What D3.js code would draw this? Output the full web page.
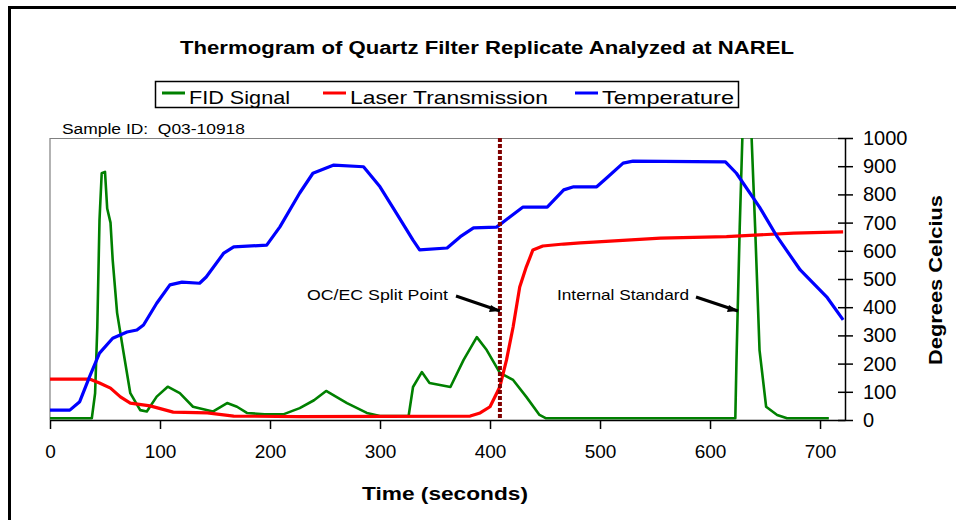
<!DOCTYPE html>
<html lang="en">
<head>
    <meta charset="UTF-8">
    <title>Thermogram of Quartz Filter Replicate</title>
    <style>
        body { margin: 0; background: #fff; }
        text { font-family: "Liberation Sans", Arial, sans-serif; white-space: pre; }
    </style>
</head>
<body>
<script src="https://d3js.org/d3.v7.min.js"></script>
<script>
    // time (s) / value pairs
    const fidTime = [0, 38, 41, 43, 45, 47, 50, 52, 55, 57, 61, 67, 73, 82, 88, 97, 107, 118, 130, 148, 161, 170, 179, 195, 212, 227, 240, 251, 270, 288, 300, 326, 330, 338, 345, 364, 376, 388, 397, 409, 421, 433, 445, 451, 623, 624, 627, 630, 637, 641, 645, 651, 661, 670, 708];
    const fidValue = [6, 6, 95, 330, 709, 875, 880, 750, 700, 567, 380, 236, 95, 35, 30, 83, 118, 95, 47, 30, 60, 47, 25, 20, 20, 42, 70, 103, 60, 25, 14, 14, 117, 170, 131, 117, 213, 294, 248, 167, 142, 82, 18, 6, 6, 202, 684, 1080, 1080, 684, 248, 47, 18, 6, 6];

    const laserTime = [0, 36, 45, 55, 64, 73, 91, 112, 143, 167, 227, 382, 391, 400, 409, 415, 421, 427, 433, 439, 448, 467, 482, 494, 555, 615, 676, 721];
    const laserValue = [145, 145, 131, 113, 82, 60, 50, 28, 25, 14, 12, 14, 25, 47, 118, 213, 330, 472, 543, 603, 617, 624, 628, 631, 645, 650, 663, 667];

    const tempTime = [0, 18, 27, 36, 45, 57, 70, 79, 85, 97, 109, 120, 136, 142, 158, 167, 197, 209, 227, 239, 258, 285, 300, 315, 330, 336, 361, 373, 385, 406, 418, 430, 452, 467, 476, 497, 506, 521, 530, 614, 624, 645, 661, 682, 706, 721];
    const tempValue = [35, 35, 65, 154, 237, 290, 312, 319, 337, 414, 479, 489, 485, 507, 592, 614, 620, 685, 805, 875, 904, 898, 827, 733, 638, 603, 610, 650, 681, 684, 720, 755, 755, 816, 827, 827, 858, 911, 918, 915, 875, 755, 650, 532, 437, 355];

    const xTicks = [0, 100, 200, 300, 400, 500, 600, 700];
    const yTicks = [0, 100, 200, 300, 400, 500, 600, 700, 800, 900, 1000];
    const splitTime = 409;

    const series = [
        {name: "FID Signal", color: "#008000", time: fidTime, value: fidValue, width: 2.6},
        {name: "Laser Transmission", color: "#ff0000", time: laserTime, value: laserValue, width: 3.2},
        {name: "Temperature", color: "#0000ff", time: tempTime, value: tempValue, width: 3.2}
    ];

    const width = 956, height = 520;
    const margin = ({top: 138, right: 111, bottom: 100, left: 50});

    const x = d3.scaleLinear().domain([0, 722.7]).range([margin.left, width - margin.right]);
    const y = d3.scaleLinear().domain([0, 1000]).range([height - margin.bottom, margin.top]);

    const svg = d3.select("body")
        .append("svg")
        .attr("width", width)
        .attr("height", height)
        .attr("viewBox", [0, 0, width, height]);

    // outer frame (only left and top edges visible)
    svg.append("path")
        .attr("d", `M9.5,${height} V7.5 H${width}`)
        .attr("fill", "none")
        .attr("stroke", "#000")
        .attr("stroke-width", 3);

    // title
    svg.append("text")
        .attr("x", 487).attr("y", 54)
        .attr("text-anchor", "middle")
        .attr("font-size", 18).attr("font-weight", "bold")
        .attr("textLength", 614).attr("lengthAdjust", "spacingAndGlyphs")
        .text("Thermogram of Quartz Filter Replicate Analyzed at NAREL");

    // legend
    const legend = svg.append("g");
    legend.append("rect")
        .attr("x", 155.5).attr("y", 81.5).attr("width", 583).attr("height", 26)
        .attr("fill", "#fff").attr("stroke", "#000").attr("stroke-width", 1.5);
    const legendX = [162, 323, 575];
    const legendW = [101, 198, 132];
    series.forEach((s, i) => {
        legend.append("line")
            .attr("x1", legendX[i]).attr("x2", legendX[i] + 23)
            .attr("y1", 93).attr("y2", 93)
            .attr("stroke", s.color).attr("stroke-width", 3);
        legend.append("text")
            .attr("x", legendX[i] + 27).attr("y", 104)
            .attr("font-size", 19)
            .attr("textLength", legendW[i]).attr("lengthAdjust", "spacingAndGlyphs")
            .text(s.name);
    });

    svg.append("text")
        .attr("x", 62).attr("y", 134)
        .attr("font-size", 14)
        .attr("textLength", 183).attr("lengthAdjust", "spacingAndGlyphs")
        .text("Sample ID:  Q03-10918");

    // plot frame: grey left and top edges
    svg.append("path")
        .attr("d", `M${x(0)},${y(0)} V${y(1000) + 0.5} H${x(722.7)}`)
        .attr("fill", "none")
        .attr("stroke", "#808080")
        .attr("stroke-width", 1.2);

    svg.append("clipPath").attr("id", "plot")
        .append("rect")
        .attr("x", x(0)).attr("y", y(1000))
        .attr("width", x(722.7) - x(0)).attr("height", y(0) - y(1000));

    const line = d3.line()
        .x(d => x(d[0]))
        .y(d => y(d[1]));

    // series
    svg.append("g")
        .attr("clip-path", "url(#plot)")
        .selectAll("path")
        .data(series)
        .join("path")
        .attr("d", s => line(d3.zip(s.time, s.value)))
        .attr("fill", "none")
        .attr("stroke", s => s.color)
        .attr("stroke-width", s => s.width)
        .attr("stroke-linejoin", "round");

    // OC/EC split line
    svg.append("line")
        .attr("x1", x(splitTime)).attr("x2", x(splitTime))
        .attr("y1", y(1000)).attr("y2", y(0))
        .attr("stroke", "#800000")
        .attr("stroke-width", 4)
        .attr("stroke-dasharray", "4,2");

    // x axis
    const xAxis = svg.append("g")
        .attr("transform", `translate(0,${y(0)})`)
        .call(d3.axisBottom(x).tickValues(xTicks).tickSize(9).tickPadding(16).tickSizeOuter(0));
    xAxis.select(".domain").attr("stroke-width", 1.5);
    xAxis.selectAll(".tick line").attr("stroke-width", 1.5);
    xAxis.selectAll("text").attr("font-size", 19).attr("font-family", "Liberation Sans, Arial, sans-serif");

    // right axis
    const yAxis = svg.append("g")
        .attr("transform", `translate(${x(722.7)},0)`)
        .call(d3.axisRight(y).tickValues(yTicks).tickFormat(d3.format("d"))
            .tickSize(8).tickPadding(10).tickSizeOuter(0));
    yAxis.select(".domain").attr("stroke-width", 1.5);
    yAxis.selectAll(".tick line").attr("x1", -7).attr("stroke-width", 1.5);
    yAxis.selectAll("text").attr("font-size", 20).attr("font-family", "Liberation Sans, Arial, sans-serif");

    svg.append("text")
        .attr("x", 445).attr("y", 500)
        .attr("text-anchor", "middle")
        .attr("font-size", 18).attr("font-weight", "bold")
        .attr("textLength", 166).attr("lengthAdjust", "spacingAndGlyphs")
        .text("Time (seconds)");

    svg.append("text")
        .attr("transform", "translate(942,280) rotate(-90)")
        .attr("text-anchor", "middle")
        .attr("font-size", 18).attr("font-weight", "bold")
        .attr("textLength", 170).attr("lengthAdjust", "spacingAndGlyphs")
        .text("Degrees Celcius");

    // annotations
    const notes = [
        {text: "OC/EC Split Point", x: 307, w: 141, from: [456, 296], to: [500, 311]},
        {text: "Internal Standard", x: 557, w: 132, from: [696, 297], to: [738, 311]}
    ];
    notes.forEach(n => {
        svg.append("text")
            .attr("x", n.x).attr("y", 300)
            .attr("font-size", 15)
            .attr("textLength", n.w).attr("lengthAdjust", "spacingAndGlyphs")
            .text(n.text);
        svg.append("line")
            .attr("x1", n.from[0]).attr("y1", n.from[1])
            .attr("x2", n.to[0]).attr("y2", n.to[1])
            .attr("stroke", "#000").attr("stroke-width", 3);
        svg.append("path")
            .attr("d", `M${n.to[0]},${n.to[1]} l-9,-6 l-2,7 z`)
            .attr("fill", "#000");
    });
</script>
</body>
</html>
